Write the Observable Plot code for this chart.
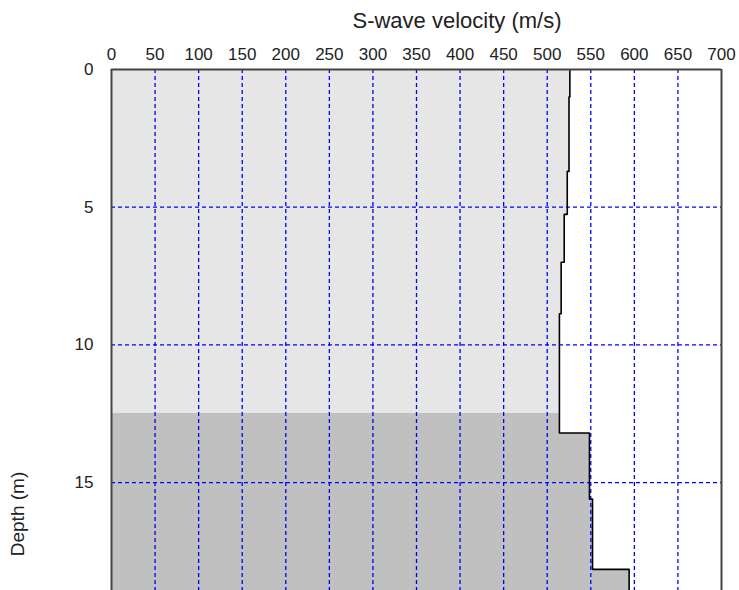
<!DOCTYPE html>
<html>
<head>
<meta charset="utf-8">
<script src="https://cdn.jsdelivr.net/npm/d3@7"></script>
<script src="https://cdn.jsdelivr.net/npm/@observablehq/plot@0.6"></script>
<style>
  html, body { margin: 0; padding: 0; background: #fff; overflow: hidden; }
  #wrap { position: relative; width: 739px; height: 590px; font-family: "Liberation Sans", Arial, sans-serif; }
  #title { position: absolute; left: 457px; top: 21px; transform: translate(-50%, -50%); font-size: 22px; color: #222; white-space: nowrap; }
  #ylab { position: absolute; left: 18px; top: 514px; transform: translate(-50%, -50%) rotate(-90deg); font-size: 19px; color: #222; white-space: nowrap; }
  svg { position: absolute; left: 0; top: 0; }
</style>
</head>
<body>
<div id="wrap">
  <div id="title">S-wave velocity (m/s)</div>
  <div id="ylab">Depth (m)</div>
</div>
<script>
// Layer data (depth in m, S-wave velocity in m/s)
const layerTop    = [0, 1.0, 3.7, 5.26, 7.0, 8.87, 13.2, 15.6, 18.15];
const layerBottom = [1.0, 3.7, 5.26, 7.0, 8.87, 13.2, 15.6, 18.15, 20];
const velocity    = [526, 525, 523, 519.5, 516, 514, 548.5, 552, 594];

// Shaded zones
const zoneTop    = [0, 12.5];
const zoneBottom = [12.5, 20];
const zoneFill   = ["#e6e6e6", "#c0c0c0"];

// Axis ticks
const xTicks = d3.range(0, 701, 50);
const yTicks = [0, 5, 10, 15];
const xGrid = d3.range(50, 700, 50);
const yGrid = [5, 10, 15];

// Build fill rects: layers intersected with zones
const fills = [];
layerTop.forEach((t, i) => {
  const b = layerBottom[i];
  zoneTop.forEach((zt, j) => {
    const zb = zoneBottom[j];
    const a = Math.max(t, zt), c = Math.min(b, zb);
    if (c > a) fills.push({v: velocity[i], y1: a, y2: c, fill: zoneFill[j]});
  });
});

// Step profile points
const profile = [];
layerTop.forEach((t, i) => {
  profile.push({x: velocity[i], y: t});
  profile.push({x: velocity[i], y: layerBottom[i]});
});

const yMax = (590 - 69) / 27.54;

const chart = Plot.plot({
  width: 739,
  height: 590,
  marginLeft: 111,
  marginRight: 18,
  marginTop: 69,
  marginBottom: 0,
  style: {fontFamily: '"Liberation Sans", Arial, sans-serif', fontSize: "17px", color: "#222", background: "transparent"},
  x: {domain: [0, 700]},
  y: {domain: [0, yMax], reverse: true},
  marks: [
    Plot.rect(fills, {x1: 0, x2: "v", y1: "y1", y2: "y2", fill: d => d.fill, clip: true, shapeRendering: "crispEdges"}),
    Plot.gridX(xGrid, {stroke: "#0000ff", strokeOpacity: 1, strokeDasharray: "4,3", strokeWidth: 1.3}),
    Plot.gridY(yGrid, {stroke: "#0000ff", strokeOpacity: 1, strokeDasharray: "4,3", strokeWidth: 1.3}),
    Plot.line(profile, {x: "x", y: "y", stroke: "#000", strokeWidth: 1.6, clip: true}),
    Plot.ruleX([0, 700], {stroke: "#444", strokeWidth: 2}),
    Plot.ruleY([0], {stroke: "#444", strokeWidth: 2}),
    Plot.axisX(xTicks, {anchor: "top", tickSize: 0, tickPadding: 10, label: null}),
    Plot.axisY(yTicks, {anchor: "left", tickSize: 0, tickPadding: 18, label: null})
  ]
});
document.getElementById("wrap").appendChild(chart);
</script>
</body>
</html>
